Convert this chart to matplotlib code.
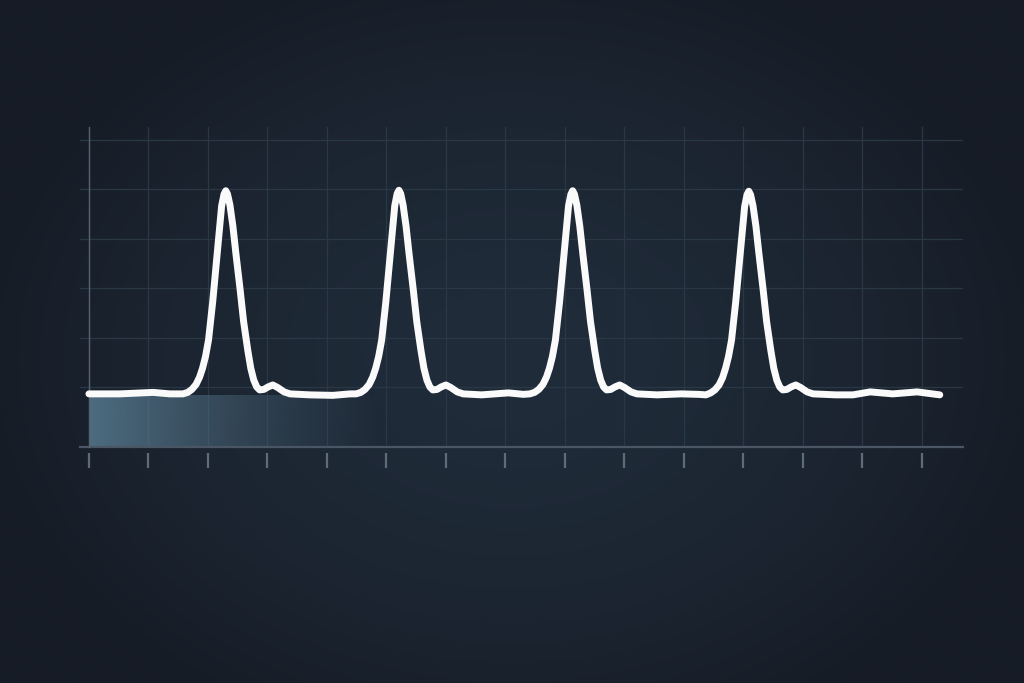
import matplotlib
matplotlib.use("Agg")
import matplotlib.pyplot as plt
import numpy as np

# signal trace (x in tick units, y in grid units)
x = [0.00, 0.52, 1.08, 1.36,
     1.58, 1.66, 1.73, 1.80, 1.86, 1.91, 1.96, 2.01, 2.08, 2.15, 2.20, 2.23,
     2.27, 2.30, 2.33, 2.37, 2.42, 2.47, 2.54, 2.60, 2.67, 2.72, 2.77, 2.82,
     2.87, 2.94, 3.01, 3.09, 3.17, 3.28, 3.38,
     3.71, 4.10, 4.39,
     4.49, 4.57, 4.64, 4.71, 4.77, 4.82, 4.87, 4.92, 4.99, 5.06, 5.11, 5.14,
     5.18, 5.21, 5.24, 5.28, 5.33, 5.38, 5.45, 5.51, 5.58, 5.63, 5.68, 5.73,
     5.78, 5.85, 5.92, 6.00, 6.08, 6.19, 6.29,
     6.60, 7.05, 7.30,
     7.41, 7.49, 7.56, 7.63, 7.69, 7.74, 7.79, 7.84, 7.91, 7.98, 8.03, 8.06,
     8.10, 8.13, 8.16, 8.20, 8.25, 8.30, 8.37, 8.43, 8.50, 8.55, 8.60, 8.65,
     8.70, 8.77, 8.84, 8.92, 9.00, 9.11, 9.21,
     9.55, 9.95, 10.25,
     10.37, 10.45, 10.52, 10.59, 10.65, 10.70, 10.75, 10.80, 10.87, 10.94,
     10.99, 11.02, 11.06, 11.09, 11.12, 11.16, 11.21, 11.26, 11.33, 11.39,
     11.46, 11.51, 11.56, 11.61, 11.66, 11.73, 11.80, 11.88, 11.96, 12.07, 12.17,
     12.55, 12.84, 13.13, 13.51, 13.92, 14.18, 14.30]

y = [0.86, 0.86, 0.89, 0.86,
     0.86, 0.89, 0.95, 1.05, 1.20, 1.38, 1.62, 1.95, 2.72, 3.62, 4.28, 4.66,
     4.90, 4.97, 4.90, 4.68, 4.25, 3.70, 2.98, 2.32, 1.74, 1.38, 1.14, 1.00,
     0.94, 0.95, 1.00, 1.04, 0.99, 0.90, 0.86,
     0.84, 0.83, 0.86,
     0.86, 0.89, 0.95, 1.05, 1.20, 1.38, 1.62, 1.95, 2.72, 3.62, 4.28, 4.67,
     4.91, 4.98, 4.91, 4.68, 4.25, 3.70, 2.98, 2.32, 1.74, 1.38, 1.14, 1.00,
     0.94, 0.95, 1.00, 1.04, 0.99, 0.90, 0.86,
     0.84, 0.88, 0.85,
     0.86, 0.89, 0.95, 1.05, 1.20, 1.38, 1.62, 1.95, 2.72, 3.62, 4.28, 4.66,
     4.90, 4.97, 4.90, 4.68, 4.25, 3.70, 2.98, 2.32, 1.74, 1.38, 1.14, 1.00,
     0.94, 0.95, 1.00, 1.04, 0.99, 0.90, 0.86,
     0.84, 0.86, 0.85,
     0.84, 0.88, 0.94, 1.04, 1.19, 1.38, 1.62, 1.95, 2.72, 3.62, 4.28, 4.65,
     4.89, 4.96, 4.89, 4.67, 4.25, 3.70, 2.98, 2.32, 1.74, 1.38, 1.14, 1.00,
     0.94, 0.95, 1.00, 1.04, 0.99, 0.90, 0.86,
     0.84, 0.84, 0.90, 0.86, 0.90, 0.86, 0.84]

x_ticks = list(range(15))
y_grid = [1, 2, 3, 4, 5, 6]

BG_CENTER = np.array([0x20, 0x2c, 0x3a]) / 255
BG_EDGE = np.array([0x16, 0x1c, 0x26]) / 255
AXIS_Y = -0.215

fig = plt.figure(figsize=(10.24, 6.83), dpi=100)

# background with soft vignette
bg = fig.add_axes([0, 0, 1, 1])
gx, gy = np.meshgrid(np.linspace(-1, 1, 400), np.linspace(-1, 1, 300))
r = np.clip(np.sqrt((gx / 1.05) ** 2 + ((gy + 0.05) / 1.2) ** 2), 0, 1)
w = r[..., None] ** 1.6
img = BG_CENTER[None, None, :] * (1 - w) + BG_EDGE[None, None, :] * w
bg.imshow(img, extent=[0, 1, 0, 1], aspect="auto", origin="lower")
bg.set_axis_off()

ax = fig.add_axes([80 / 1024, 1 - 447 / 683, 883 / 1024, 320 / 683])
ax.set_facecolor("none")
ax.set_xlim(-0.15, 14.69)
ax.set_ylim(AXIS_Y, 6.26)

ax.set_xticks(x_ticks)
ax.set_yticks(y_grid)
ax.set_xticklabels([])
ax.set_yticklabels([])
ax.grid(True, color="#2a3745", linewidth=0.9)
ax.set_axisbelow(True)
ax.tick_params(axis="y", length=0)
ax.tick_params(axis="x", direction="out", length=11, width=1.6, color="#5f6b77")

for s in ["top", "right"]:
    ax.spines[s].set_visible(False)
ax.spines["bottom"].set_visible(False)
ax.spines["bottom"].set_position(("outward", 4.5))
ax.spines["left"].set_position(("data", 0))
ax.spines["left"].set_color("#55616d")
ax.spines["left"].set_linewidth(1.0)

# baseline
ax.axhline(AXIS_Y, color="#4a5663", linewidth=1.6, clip_on=False, zorder=2)

# gradient glow under the trace on the left
grad = np.zeros((10, 300, 4))
grad[..., 0:3] = np.array([0x57, 0x7a, 0x90]) / 255
t = np.linspace(0, 1, 300)
grad[..., 3] = ((1 - t) ** 1.2 * 0.85)[None, :]
ax.imshow(grad, extent=[0, 5.0, AXIS_Y, 0.82], aspect="auto", origin="lower",
          zorder=1.5, interpolation="bilinear")

ax.plot(x, y, color="#fafafa", linewidth=5.0, solid_capstyle="round",
        solid_joinstyle="round", zorder=3)

fig.savefig("out.png", dpi=100)
